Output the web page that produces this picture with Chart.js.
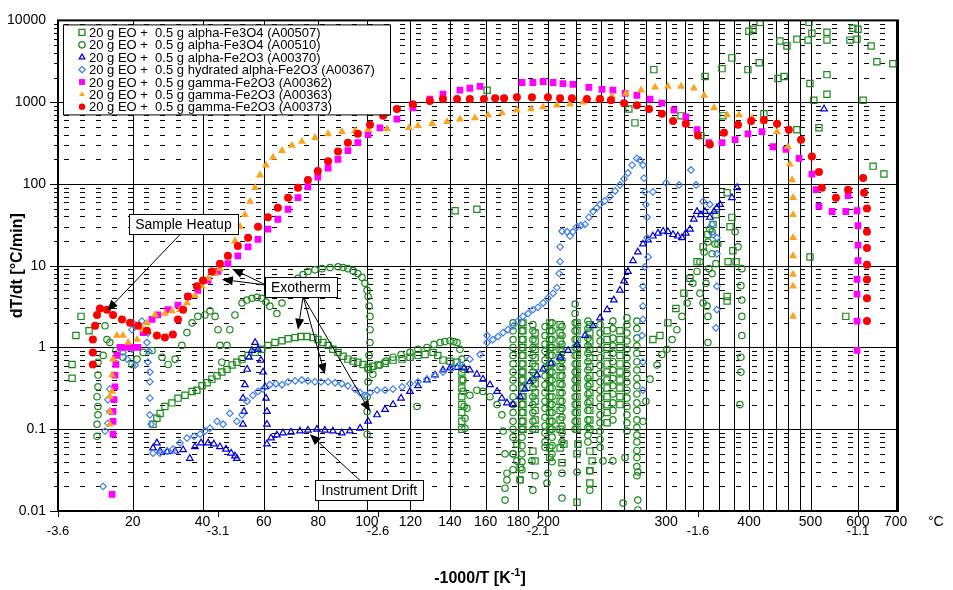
<!DOCTYPE html>
<html lang="en">
<head>
<meta charset="UTF-8">
<title>dT/dt vs -1000/T</title>
<script src="https://cdn.jsdelivr.net/npm/chart.js"></script>
<style>
  body { margin: 0; background: #fff; }
  #wrap { position: relative; width: 953px; height: 590px; }
</style>
</head>
<body>
<div id="wrap"><canvas id="rateChart"></canvas></div>
<script>
// axis ticks
const xTicks = [-3.6, -3.1, -2.6, -2.1, -1.6, -1.1];
const yTicks = [0.01, 0.1, 1, 10, 100, 1000, 10000];
const yTickText = ['0.01', '0.1', '1', '10', '100', '1000', '10000'];
// temperature grid (°C) along the -1000/T axis
const tempLines = [20, 40, 60, 80, 100, 120, 140, 160, 180, 200, 220, 240, 260, 280, 300, 320, 340, 360, 380, 400, 420, 440, 460, 480, 500, 600, 700];
const tempLabels = [20, 40, 60, 80, 100, 120, 140, 160, 180, 200, 300, 400, 500, 600, 700];

const legendLabels = [
  '20 g EO +  0.5 g alpha-Fe3O4 (A00507)',
  '20 g EO +  0.5 g alpha-Fe3O4 (A00510)',
  '20 g EO +  0.5 g alpha-Fe2O3 (A00370)',
  '20 g EO +  0.5 g hydrated alpha-Fe2O3 (A00367)',
  '20 g EO +  0.5 g gamma-Fe2O3 (A00362)',
  '20 g EO +  0.5 g gamma-Fe2O3 (A00363)',
  '20 g EO +  0.5 g gamma-Fe2O3 (A00373)'
];

// [ -1000/T , dT/dt ]
const sq507 = [
  [-3.556,0.42],[-3.556,0.62],[-3.544,1.40],[-3.528,2.4],[-3.503,1.6],
  [-3.303,0.115],[-3.291,0.136],[-3.281,0.156],[-3.266,0.19],[-3.244,0.21],[-3.225,0.24],[-3.203,0.26],[-3.181,0.29],[-3.166,0.30],[-3.150,0.34],[-3.134,0.37],[-3.119,0.41],[-3.103,0.45],[-3.088,0.50],[-3.072,0.54],[-3.056,0.61],[-3.041,0.66],[-3.025,0.72],[-3.006,0.80],[-2.984,0.87],[-2.963,0.95],[-2.944,1.06],[-2.922,1.15],[-2.900,1.21],[-2.881,1.28],[-2.859,1.32],[-2.841,1.36],[-2.822,1.36],[-2.803,1.32],[-2.788,1.25],[-2.772,1.15],[-2.756,1.06],[-2.741,0.95],[-2.725,0.87],[-2.709,0.78],[-2.694,0.72],[-2.678,0.68],[-2.663,0.66],[-2.647,0.62],[-2.631,0.57],[-2.616,0.59],[-2.600,0.61],[-2.578,0.64],[-2.553,0.70],[-2.525,0.72],[-2.500,0.76],[-2.475,0.80],[-2.453,0.82],[-2.428,0.87],[-2.413,0.80],[-2.397,0.70],[-2.375,0.68],[-2.353,0.66],
  [-2.338,0.5],[-2.338,0.4],[-2.338,0.32],[-2.338,0.25],[-2.338,0.2],[-2.338,0.16],[-2.338,0.125],[-2.338,0.1],
  [-2.147,2.0],[-2.147,1.6],[-2.147,1.25],[-2.147,1.0],[-2.147,0.8],[-2.147,0.63],[-2.147,0.5],[-2.147,0.4],[-2.147,0.32],[-2.147,0.25],[-2.147,0.2],[-2.147,0.16],[-2.147,0.125],[-2.147,0.1],
  [-2.109,0.1],[-2.109,0.13],[-2.109,0.17],[-2.109,0.22],[-2.109,0.28],[-2.109,0.36],[-2.109,0.45],[-2.109,0.58],[-2.109,0.75],[-2.109,0.95],[-2.109,1.2],[-2.109,1.5],
  [-2.063,2.0],[-2.063,1.6],[-2.063,1.25],[-2.063,1.0],[-2.063,0.8],[-2.063,0.63],[-2.063,0.5],[-2.063,0.4],[-2.063,0.32],[-2.063,0.25],[-2.063,0.2],[-2.063,0.16],[-2.063,0.125],[-2.063,0.1],
  [-2.031,0.1],[-2.031,0.13],[-2.031,0.17],[-2.031,0.22],[-2.031,0.28],[-2.031,0.36],[-2.031,0.45],[-2.031,0.58],[-2.031,0.75],[-2.031,0.95],[-2.031,1.2],[-2.031,1.5],[-2.031,1.9],
  [-1.978,2.0],[-1.978,1.6],[-1.978,1.25],[-1.978,1.0],[-1.978,0.8],[-1.978,0.63],[-1.978,0.5],[-1.978,0.4],[-1.978,0.32],[-1.978,0.25],[-1.978,0.2],[-1.978,0.16],[-1.978,0.125],[-1.978,0.1],
  [-1.938,0.1],[-1.938,0.13],[-1.938,0.17],[-1.938,0.22],[-1.938,0.28],[-1.938,0.36],[-1.938,0.45],[-1.938,0.58],[-1.938,0.75],[-1.938,0.95],[-1.938,1.2],[-1.938,1.5],[-1.938,1.9],
  [-1.884,1.6],[-1.884,1.25],[-1.884,1.0],[-1.884,0.8],[-1.884,0.63],[-1.884,0.5],[-1.884,0.4],[-1.884,0.32],[-1.884,0.25],[-1.884,0.2],[-1.884,0.16],[-1.884,0.12],
  [-1.844,0.2],[-1.844,0.25],[-1.844,0.32],[-1.844,0.4],[-1.844,0.5],[-1.844,0.63],[-1.844,0.8],[-1.844,1.0],[-1.844,1.25],[-1.844,1.6],
  [-2.166,0.066],[-2.156,0.034],[-2.156,0.024],[-2.116,0.054],[-2.109,0.041],[-2.063,0.059],[-2.063,0.045],[-2.025,0.039],[-2.031,0.059],[-1.975,0.066],[-1.978,0.050],[-1.978,0.0128],[-1.938,0.054],[-1.931,0.041],[-1.938,0.031],[-1.938,0.022],[-2.019,0.066],
  [-1.741,1.25],[-1.719,1.40],[-1.694,2.0],[-1.669,3.0],[-1.644,4.6],[-1.625,7.0],[-1.603,11.2],[-1.584,17],[-1.569,24],[-1.553,32],[-1.544,42],
  [-2.359,47],[-2.291,49],[-2.259,1400],[-1.816,824],[-1.797,558],[-1.738,2500],[-1.653,680],[-1.591,390],[-1.578,2060],[-1.525,2570],[-1.494,3480],[-1.522,680],[-1.444,2500],[-1.441,7370],[-1.428,7800],[-1.406,9460],[-1.409,3030],[-1.394,720],[-1.344,5590],[-1.322,4860],[-1.350,1950],[-1.331,2060],[-1.291,5900],[-1.256,5740],[-1.253,9460],[-1.244,6970],[-1.250,1690],[-1.238,1057],[-1.291,460],[-1.222,486],[-1.197,7170],[-1.197,5740],[-1.197,2170],[-1.197,1250],[-1.125,5740],[-1.116,8010],[-1.100,7800],[-1.103,5900],[-1.059,4860],[-1.041,3120],[-0.991,2950],[-1.084,1057],[-1.053,165],[-1.019,132],[-1.250,12.8],[-1.138,2.4],[-1.509,78],[-1.494,39],[-1.500,30],[-1.491,15.2],[-1.506,11.2],[-1.481,11.2],[-1.509,4.2],[-1.509,3.7]
];

const circ510 = [
  [-3.478,0.082],[-3.478,0.115],[-3.475,0.15],[-3.475,0.19],[-3.478,0.25],[-3.475,0.33],[-3.475,0.46],[-3.475,0.66],[-3.459,0.80],[-3.453,1.84],[-3.447,1.25],[-3.438,1.15],
  [-3.419,0.92],[-3.397,0.76],[-3.369,0.62],[-3.353,0.72],[-3.334,0.87],[-3.306,0.92],[-3.275,0.76],[-3.256,0.62],[-3.234,0.72],[-3.213,1.06],[-3.197,1.52],[-3.181,2.0],[-3.163,2.4],[-3.141,2.5],[-3.125,2.8],[-3.109,2.4],[-3.100,1.65],[-3.094,1.06],[-3.088,0.66],[-3.072,1.06],[-3.063,1.65],[-3.047,2.5],[-3.025,3.5],[-3.010,3.8],[-2.994,4.0],[-2.978,4.1],[-2.963,4.0],[-2.950,3.6],[-2.938,3.2],[-2.916,2.6],[-2.900,3.5],[-2.881,5.0],[-2.866,5.9],[-2.850,7.0],[-2.834,7.8],[-2.819,8.5],[-2.797,8.9],[-2.775,9.2],[-2.750,9.5],[-2.725,9.7],[-2.709,9.5],[-2.694,9.2],[-2.678,8.7],[-2.663,8.0],[-2.650,7.2],[-2.641,6.1],[-2.634,5.0],[-2.631,4.2],[-2.628,3.2],[-2.625,2.4],[-2.625,1.65],[-2.625,1.15],[-2.628,0.80],[-2.631,0.54],[-2.631,0.38],[-2.634,0.25],[-2.634,0.165],[-2.634,0.087],
  [-2.616,0.47],[-2.594,0.61],[-2.575,0.68],[-2.553,0.76],[-2.528,0.82],[-2.500,0.87],[-2.475,0.95],[-2.447,1.0],[-2.425,1.09],[-2.406,1.15],[-2.391,1.18],[-2.375,1.21],[-2.363,1.18],[-2.353,1.15],[-2.344,0.95],[-2.338,0.72],[-2.334,0.54],[-2.334,0.40],[-2.334,0.29],[-2.331,0.19],[-2.328,0.136],[-2.328,0.103],[-2.322,0.18],[-2.313,0.26],[-2.291,0.30],[-2.272,0.29],[-2.250,0.25],[-2.228,0.20],[-2.213,0.15],[-2.209,0.095],[-2.203,0.050],[-2.197,0.029],[-2.203,0.019],[-2.478,0.19],
  [-2.178,0.032],[-2.178,0.05],[-2.178,0.08],[-2.178,0.1],[-2.178,0.125],[-2.178,0.16],[-2.178,0.2],[-2.178,0.25],[-2.178,0.32],[-2.178,0.4],[-2.178,0.5],[-2.178,0.63],[-2.178,0.8],[-2.178,1.0],[-2.178,1.25],[-2.178,1.6],[-2.178,2.0],
  [-2.150,2.0],[-2.150,1.6],[-2.150,1.25],[-2.150,1.0],[-2.150,0.8],[-2.150,0.63],[-2.150,0.5],[-2.150,0.4],[-2.150,0.32],[-2.150,0.25],[-2.150,0.2],[-2.150,0.16],[-2.150,0.125],[-2.150,0.1],[-2.150,0.08],[-2.150,0.063],[-2.150,0.05],[-2.150,0.04],[-2.150,0.032],
  [-2.116,0.1],[-2.116,0.125],[-2.116,0.16],[-2.116,0.2],[-2.116,0.25],[-2.116,0.32],[-2.116,0.4],[-2.116,0.5],[-2.116,0.63],[-2.116,0.8],[-2.116,1.0],[-2.116,1.25],[-2.116,1.6],[-2.116,1.9],
  [-2.078,1.8],[-2.078,1.4],[-2.078,1.1],[-2.078,0.9],[-2.078,0.7],[-2.078,0.56],[-2.078,0.45],[-2.078,0.35],[-2.078,0.28],[-2.078,0.22],[-2.078,0.18],[-2.078,0.14],[-2.078,0.11],[-2.078,0.09],[-2.078,0.07],[-2.078,0.06],
  [-2.056,0.04],[-2.056,0.05],[-2.056,0.063],[-2.056,0.08],[-2.056,0.1],[-2.056,0.125],[-2.056,0.16],[-2.056,0.2],[-2.056,0.25],[-2.056,0.32],[-2.056,0.4],[-2.056,0.5],[-2.056,0.63],[-2.056,0.8],[-2.056,1.0],[-2.056,1.25],[-2.056,1.6],[-2.056,2.0],
  [-2.025,1.8],[-2.025,1.4],[-2.025,1.1],[-2.025,0.9],[-2.025,0.7],[-2.025,0.56],[-2.025,0.45],[-2.025,0.35],[-2.025,0.28],[-2.025,0.22],[-2.025,0.18],[-2.025,0.14],[-2.025,0.11],[-2.025,0.09],[-2.025,0.07],
  [-1.984,0.1],[-1.984,0.125],[-1.984,0.16],[-1.984,0.2],[-1.984,0.25],[-1.984,0.32],[-1.984,0.4],[-1.984,0.5],[-1.984,0.63],[-1.984,0.8],[-1.984,1.0],[-1.984,1.25],[-1.984,1.6],[-1.984,2.0],[-1.984,2.6],[-1.984,3.4],
  [-1.944,2.1],[-1.944,1.7],[-1.944,1.3],[-1.944,1.05],[-1.944,0.85],[-1.944,0.67],[-1.944,0.53],[-1.944,0.42],[-1.944,0.34],[-1.944,0.27],[-1.944,0.21],[-1.944,0.17],[-1.944,0.13],[-1.944,0.105],[-1.944,0.085],[-1.944,0.07],
  [-1.906,0.06],[-1.906,0.075],[-1.906,0.095],[-1.906,0.12],[-1.906,0.15],[-1.906,0.19],[-1.906,0.24],[-1.906,0.3],[-1.906,0.38],[-1.906,0.48],[-1.906,0.6],[-1.906,0.75],[-1.906,0.95],[-1.906,1.2],[-1.906,1.5],[-1.906,1.9],
  [-1.866,2.1],[-1.866,1.7],[-1.866,1.3],[-1.866,1.05],[-1.866,0.85],[-1.866,0.67],[-1.866,0.53],[-1.866,0.42],[-1.866,0.34],[-1.866,0.27],[-1.866,0.21],[-1.866,0.17],[-1.866,0.13],
  [-1.822,0.095],[-1.822,0.12],[-1.822,0.15],[-1.822,0.19],[-1.822,0.24],[-1.822,0.3],[-1.822,0.38],[-1.822,0.48],[-1.822,0.6],[-1.822,0.75],[-1.822,0.95],[-1.822,1.2],[-1.822,1.5],[-1.822,1.9],[-1.822,2.3],
  [-1.791,2.1],[-1.791,1.7],[-1.791,1.3],[-1.791,1.05],[-1.791,0.85],[-1.791,0.67],[-1.791,0.53],[-1.791,0.42],[-1.791,0.34],[-1.791,0.27],[-1.791,0.21],[-1.791,0.17],[-1.791,0.13],[-1.791,0.105],[-1.791,0.085],[-1.791,0.07],[-1.791,0.055],[-1.791,0.045],[-1.791,0.035],[-1.791,0.027],
  [-1.772,0.125],[-1.763,0.22],[-1.750,0.41],[-1.728,0.61],[-1.713,0.82],[-1.697,0.95],[-1.681,1.25],[-1.666,1.65],[-1.650,2.4],[-1.634,3.5],[-1.616,6.1],[-1.603,8.5],[-1.594,11.2],[-1.581,14.7],[-1.569,19.5],[-1.556,26],
  [-1.594,4.6],[-1.584,3.5],[-1.575,6.1],[-1.566,9.2],[-1.556,14],[-1.547,18.4],[-1.572,3.2],[-1.569,2.4],[-1.569,1.15],[-1.556,8.0],[-1.544,10.6],[-1.538,18.4],[-1.563,28],
  [-2.203,0.0136],[-2.197,0.024],[-2.178,0.050],[-2.156,0.024],[-2.119,0.041],[-2.116,0.018],[-2.109,0.027],[-2.072,0.022],[-2.069,0.029],[-2.025,0.0144],[-2.025,0.029],[-1.978,0.030],[-1.938,0.018],[-1.938,0.031],[-1.897,0.041],[-1.866,0.041],[-1.828,0.045],[-1.834,0.0125],[-1.788,0.030],[-1.788,0.0136],[-1.788,0.0103],[-2.166,0.041],
  [-1.484,26],[-1.475,17],[-1.463,9.2],[-1.466,5.7],[-1.463,3.8],[-1.463,2.4],[-1.463,1.40],[-1.466,0.76],[-1.466,0.50],[-1.469,0.20]
];

const tri370 = [
  [-3.303,0.059],[-3.291,0.068],[-3.281,0.054],[-3.259,0.053],[-3.234,0.054],[-3.209,0.056],[-3.188,0.044],[-3.172,0.061],[-3.153,0.068],[-3.131,0.068],[-3.113,0.066],[-3.094,0.061],[-3.075,0.057],[-3.059,0.051],[-3.047,0.047],[-3.041,0.044],
  [-3.022,0.115],[-3.019,0.165],[-3.022,0.24],[-3.016,0.35],[-3.009,0.54],[-3.003,0.76],[-2.994,0.92],[-2.984,1.15],[-2.975,0.95],[-2.966,0.70],[-2.959,0.50],[-2.953,0.33],[-2.950,0.24],[-2.947,0.165],[-2.947,0.115],[-2.947,0.066],
  [-2.934,0.078],[-2.916,0.085],[-2.897,0.090],[-2.872,0.092],[-2.844,0.095],[-2.819,0.097],[-2.791,0.1],[-2.766,0.097],[-2.741,0.095],[-2.713,0.090],[-2.688,0.095],[-2.656,0.103],[-2.631,0.125],[-2.603,0.15],[-2.578,0.174],[-2.553,0.20],[-2.528,0.24],[-2.500,0.29],[-2.475,0.34],[-2.447,0.40],[-2.422,0.46],[-2.397,0.53],[-2.375,0.56],[-2.353,0.57],[-2.331,0.56],[-2.313,0.53],[-2.291,0.47],[-2.272,0.41],[-2.250,0.35],[-2.228,0.29],[-2.213,0.24],[-2.197,0.21],[-2.178,0.20],[-2.156,0.25],[-2.141,0.31],[-2.125,0.38],[-2.103,0.46],[-2.084,0.54],[-2.059,0.64],[-2.031,0.76],[-2.006,0.92],[-1.978,1.09],[-1.953,1.40],[-1.928,1.84],[-1.906,2.3],[-1.884,2.9],[-1.863,3.8],[-1.844,5.0],[-1.831,6.5],[-1.819,8.5],[-1.803,11.5],[-1.788,14.7],[-1.772,18.4],[-1.756,20.6],[-1.741,23],[-1.725,25],[-1.709,26.4],[-1.694,26],[-1.678,24],[-1.663,23],[-1.650,22],[-1.638,25],[-1.625,28],[-1.613,37],[-1.603,46],[-1.591,42],[-1.578,46],[-1.563,39],[-1.550,46],[-1.541,51],[-1.531,56],
  [-1.494,68],[-1.478,90],[-1.206,824]
];

const dia367 = [
  [-3.459,0.020],[-3.453,0.095],[-3.444,0.118],[-3.438,0.165],[-3.444,0.23],[-3.438,0.31],[-3.397,0.87],[-3.384,0.72],[-3.369,0.95],[-3.369,1.65],[-3.366,2.0],[-3.359,0.61],[-3.338,2.1],[-3.322,1.15],[-3.319,1.5],[-3.316,0.9],[-3.319,0.66],[-3.313,0.5],[-3.313,0.38],[-3.313,0.24],[-3.313,0.15],[-3.309,0.115],
  [-3.303,0.051],[-3.281,0.051],[-3.259,0.054],[-3.241,0.057],[-3.219,0.068],[-3.197,0.078],[-3.175,0.082],[-3.156,0.087],[-3.141,0.095],[-3.125,0.103],[-3.103,0.125],[-3.084,0.115],[-3.063,0.156],[-3.041,0.125],[-3.025,0.15],[-3.009,0.22],[-2.991,0.26],[-2.975,0.29],[-2.959,0.31],[-2.938,0.35],[-2.919,0.36],[-2.900,0.35],[-2.881,0.38],[-2.859,0.39],[-2.838,0.40],[-2.819,0.39],[-2.797,0.38],[-2.778,0.38],[-2.756,0.38],[-2.734,0.37],[-2.713,0.36],[-2.694,0.34],[-2.672,0.31],[-2.656,0.28],[-2.641,0.26],[-2.625,0.28],[-2.603,0.30],[-2.578,0.30],[-2.553,0.31],[-2.525,0.33],[-2.500,0.36],[-2.475,0.38],[-2.447,0.41],[-2.422,0.46],[-2.397,0.50],[-2.369,0.56],[-2.344,0.62],[-2.313,0.72],[-2.281,0.82],[-2.259,1.15],[-2.259,1.40],[-2.241,1.25],[-2.225,1.36],[-2.209,1.52],[-2.194,1.65],[-2.178,1.84],[-2.163,2.1],[-2.147,2.4],[-2.131,2.6],[-2.116,2.9],[-2.100,3.1],[-2.084,3.5],[-2.069,4.0],[-2.053,4.6],[-2.041,5.4],[-2.034,8.0],[-2.031,11.2],[-2.031,17],[-2.025,26.4],[-2.009,26],[-2.000,23],[-1.991,26],[-1.978,30],[-1.966,31],[-1.953,32],[-1.941,39],[-1.928,46],[-1.916,51],[-1.906,56],[-1.891,62],[-1.875,70],[-1.859,82],[-1.844,97],[-1.831,115],[-1.819,136],[-1.806,170],[-1.791,205],[-1.781,195],[-1.772,170],[-1.769,118],[-1.766,80],[-1.763,56],[-1.759,39],[-1.759,22],[-1.756,12.8],[-1.766,9.7],[-1.772,5.6],[-1.772,3.2],[-1.772,2.2],[-1.775,1.40],[-1.772,0.66],[-1.772,0.30],
  [-1.741,80],[-1.700,103],[-1.659,97],[-1.622,148],[-1.606,97],[-1.584,61],[-1.563,56],[-1.556,32],[-1.553,24],[-1.541,22],[-1.541,14],[-1.541,5.6],[-1.541,2.9],[-1.544,1.74]
];

const sq362 = [
  [-3.431,0.016],[-3.428,0.087],[-3.428,0.125],[-3.428,0.165],[-3.425,0.23],[-3.422,0.33],[-3.422,0.46],[-3.419,0.62],[-3.416,0.80],[-3.406,1.0],[-3.388,1.0],[-3.369,1.0],[-3.350,1.0],[-3.334,1.52],[-3.306,2.2],[-3.288,2.5],[-3.256,2.9],[-3.225,3.3],[-3.194,4.2],[-3.163,5.0],[-3.131,6.6],[-3.100,8.5],[-3.069,10.6],[-3.038,13.2],[-3.006,17],[-2.975,21],[-2.944,28],[-2.913,37],[-2.881,49],[-2.850,68],[-2.819,92],[-2.788,121],[-2.756,156],[-2.725,200],[-2.694,255],[-2.663,320],[-2.631,400],[-2.594,486],[-2.541,620],[-2.491,850],[-2.438,1090],[-2.397,1250],[-2.344,1400],[-2.313,1480],[-2.281,1560],
  [-2.150,1740],[-2.116,1740],[-2.084,1790],[-2.053,1740],[-2.022,1690],[-1.991,1650],[-1.941,1520],[-1.900,1430],[-1.866,1400],[-1.828,1280],[-1.791,1210],[-1.750,1090],[-1.713,973],[-1.675,800],[-1.638,660],[-1.603,460],[-1.566,320],[-1.525,320],[-1.484,348],[-1.444,410],[-1.400,435],[-1.366,285],[-1.325,264],[-1.284,205],[-1.244,132],[-1.231,85],[-1.222,53],[-1.181,46],[-1.138,46],[-1.131,72],[-1.103,47],[-1.100,31],[-1.100,17.9],[-1.100,11.5],[-1.103,6.8],[-1.103,4.5],[-1.103,2.1],[-1.103,0.92]
];

const tri363 = [
  [-3.438,0.115],[-3.438,0.165],[-3.438,0.25],[-3.431,0.29],[-3.431,0.46],[-3.428,0.72],[-3.416,1.40],[-3.397,1.40],[-3.381,1.15],[-3.353,1.25],[-3.334,1.65],[-3.322,2.0],[-3.297,2.5],[-3.266,2.6],[-3.244,2.8],[-3.219,2.9],[-3.197,3.5],[-3.172,4.3],[-3.150,5.6],[-3.131,7.0],[-3.109,8.0],[-3.094,9.2],[-3.069,12.8],[-3.047,20],[-3.031,30],[-3.016,42],[-3.000,61],[-2.984,90],[-2.969,128],[-2.950,170],[-2.928,211],[-2.900,255],[-2.869,295],[-2.838,330],[-2.797,368],[-2.756,410],[-2.713,435],[-2.672,448],[-2.631,460],[-2.572,470],[-2.503,486],[-2.475,515],[-2.431,545],[-2.384,575],[-2.344,620],[-2.297,641],[-2.256,697],[-2.213,737],[-2.166,800],[-2.122,824],[-2.084,871],[-2.041,920],[-2.000,946],[-1.959,1000],[-1.913,1090],[-1.869,1180],[-1.825,1280],[-1.778,1400],[-1.734,1520],[-1.694,1560],[-1.653,1560],[-1.613,1480],[-1.581,1210],[-1.550,850],[-1.509,697],[-1.472,697],[-1.431,641],[-1.394,575],[-1.353,435],[-1.319,285],[-1.313,174],[-1.306,112],[-1.303,68],[-1.303,42],[-1.303,22],[-1.303,13.2],[-1.303,7.8],[-1.303,5.6],[-1.303,2.4]
];

const dot373 = [
  [-3.491,0.62],[-3.491,0.87],[-3.491,1.25],[-3.484,1.84],[-3.478,2.5],[-3.469,3.0],[-3.447,2.9],[-3.428,2.5],[-3.400,2.2],[-3.375,2.0],[-3.350,1.84],[-3.322,1.6],[-3.291,1.4],[-3.266,1.32],[-3.241,1.44],[-3.225,2.2],[-3.209,2.9],[-3.194,4.2],[-3.166,5.6],[-3.147,6.6],[-3.119,8.5],[-3.094,10.6],[-3.069,13.2],[-3.038,17.4],[-3.006,22],[-2.975,30],[-2.944,39],[-2.913,51],[-2.881,68],[-2.850,90],[-2.819,112],[-2.788,144],[-2.756,189],[-2.725,250],[-2.694,320],[-2.663,410],[-2.625,528],[-2.584,680],[-2.541,824],[-2.491,946],[-2.438,1030],[-2.397,1090],[-2.353,1090],[-2.313,1090],[-2.269,1090],[-2.234,1117],[-2.206,1117],[-2.166,1150],[-2.119,1150],[-2.069,1150],[-2.031,1117],[-1.994,1117],[-1.947,1090],[-1.906,1090],[-1.872,1057],[-1.831,973],[-1.791,920],[-1.753,824],[-1.713,720],[-1.678,590],[-1.638,545],[-1.600,390],[-1.563,303],[-1.519,424],[-1.475,528],[-1.434,590],[-1.394,607],[-1.353,545],[-1.316,460],[-1.278,348],[-1.244,217],[-1.222,140],[-1.213,90],[-1.169,68],[-1.131,85],[-1.084,118],[-1.081,78],[-1.072,50],[-1.072,26],[-1.072,16.5],[-1.072,10.3],[-1.072,6.8],[-1.072,4.0],[-1.072,2.1]
];

const fontFamily = "'Liberation Sans', Arial, Helvetica, sans-serif";
Chart.defaults.font.family = fontFamily;
Chart.defaults.color = '#000';

// the temperature gridlines in the source sit ~0.045 K^-1 right of -1000/T
function toInvK(t) { return -1000 / (t + 273.15) + 0.045; }

const seriesDefs = [
  { pts: sq507,   style: 'rect',     color: '#1a8a1a', filled: false, r: 4.4 },
  { pts: circ510, style: 'circle',   color: '#1a8a1a', filled: false, r: 3.2 },
  { pts: tri370,  style: 'triangle', color: '#0000dd', filled: false, r: 3.8 },
  { pts: dia367,  style: 'rectRot',  color: '#3f7ff2', filled: false, r: 3.3 },
  { pts: sq362,   style: 'rect',     color: '#ff00ff', filled: true,  r: 4.8 },
  { pts: tri363,  style: 'triangle', color: '#fca31c', filled: true,  r: 4.6 },
  { pts: dot373,  style: 'circle',   color: '#ff0000', filled: true,  r: 4.0 }
];

// callouts, positioned in data units
const notes = [
  { text: 'Sample Heatup', at: [-3.208, 32], arrows: [[[-3.219, 24], [-3.447, 2.8]]] },
  { text: 'Exotherm', at: [-2.841, 5.5], arrows: [
      [[-2.950, 5.8], [-3.088, 6.8]],
      [[-2.950, 5.8], [-3.056, 9.2]],
      [[-2.834, 4.2], [-2.850, 1.65]],
      [[-2.834, 4.2], [-2.766, 0.47]],
      [[-2.834, 4.2], [-2.625, 0.165]] ] },
  { text: 'Instrument Drift', at: [-2.627, 0.0179], arrows: [[[-2.656, 0.0236], [-2.813, 0.087]]] }
];

function markerOpts(s, r) {
  return { pointStyle: s.style, radius: r, rotation: 0, borderWidth: s.filled ? 0 : 1.2 };
}

const gridPlugin = {
  id: 'gridPlugin',
  beforeDatasetsDraw(chart) {
    const { ctx, chartArea: a, scales: { x, y } } = chart;
    ctx.save();
    ctx.beginPath();
    ctx.rect(a.left, a.top, a.right - a.left, a.bottom - a.top);
    ctx.clip();
    ctx.strokeStyle = '#000';
    ctx.lineWidth = 1;
    ctx.setLineDash([5, 11]);
    for (let e = -2; e < 4; e++) {
      for (let m = 2; m <= 9; m++) {
        const py = Math.round(y.getPixelForValue(m * Math.pow(10, e))) + 0.5;
        ctx.beginPath(); ctx.moveTo(a.left + 6, py); ctx.lineTo(a.right, py); ctx.stroke();
      }
    }
    ctx.setLineDash([]);
    yTicks.forEach(v => {
      const py = Math.round(y.getPixelForValue(v)) + 0.5;
      ctx.beginPath(); ctx.moveTo(a.left, py); ctx.lineTo(a.right, py); ctx.stroke();
    });
    tempLines.forEach(t => {
      const px = Math.round(x.getPixelForValue(toInvK(t))) + 0.5;
      ctx.beginPath(); ctx.moveTo(px, a.top); ctx.lineTo(px, a.bottom); ctx.stroke();
    });
    ctx.restore();
  },
  afterDatasetsDraw(chart) {
    const { ctx, chartArea: a, scales: { x, y } } = chart;
    ctx.save();
    // frame and tick marks
    ctx.strokeStyle = '#000';
    ctx.lineWidth = 2;
    ctx.strokeRect(a.left, a.top, a.right - a.left, a.bottom - a.top);
    ctx.lineWidth = 1;
    for (let e = -2; e < 4; e++) {
      for (let m = 1; m <= 9; m++) {
        const py = Math.round(y.getPixelForValue(m * Math.pow(10, e))) + 0.5;
        const len = m === 1 ? 8 : 4;
        ctx.beginPath(); ctx.moveTo(a.left - len, py); ctx.lineTo(a.left, py); ctx.stroke();
      }
    }
    xTicks.forEach(v => {
      const px = Math.round(x.getPixelForValue(v)) + 0.5;
      ctx.beginPath(); ctx.moveTo(px, a.bottom); ctx.lineTo(px, a.bottom + 6); ctx.stroke();
    });

    // callouts
    ctx.font = '14px ' + fontFamily;
    notes.forEach(n => {
      ctx.fillStyle = '#000';
      n.arrows.forEach(([from, to]) => {
        const x0 = x.getPixelForValue(from[0]), y0 = y.getPixelForValue(from[1]);
        const x1 = x.getPixelForValue(to[0]), y1 = y.getPixelForValue(to[1]);
        const ang = Math.atan2(y1 - y0, x1 - x0);
        const hl = 11, hw = 4.5;
        const bx = x1 - hl * Math.cos(ang), by = y1 - hl * Math.sin(ang);
        ctx.beginPath(); ctx.moveTo(x0, y0); ctx.lineTo(bx, by); ctx.stroke();
        ctx.beginPath();
        ctx.moveTo(x1, y1);
        ctx.lineTo(bx + hw * Math.sin(ang), by - hw * Math.cos(ang));
        ctx.lineTo(bx - hw * Math.sin(ang), by + hw * Math.cos(ang));
        ctx.closePath(); ctx.fill();
      });
      const cx = x.getPixelForValue(n.at[0]), cy = y.getPixelForValue(n.at[1]);
      const w = Math.round(ctx.measureText(n.text).width + 12), h = 20;
      const bx = Math.round(cx - w / 2) + 0.5, by = Math.round(cy - h / 2) + 0.5;
      ctx.fillStyle = '#fff';
      ctx.fillRect(bx, by, w, h);
      ctx.strokeRect(bx, by, w, h);
      ctx.fillStyle = '#000';
      ctx.textAlign = 'center'; ctx.textBaseline = 'middle';
      ctx.fillText(n.text, cx, cy + 1);
    });

    // legend box
    const lx = a.left + 5, ly = a.top + 4, lw = 327, lh = 90;
    ctx.fillStyle = '#fff';
    ctx.fillRect(lx + 0.5, ly + 0.5, lw, lh);
    ctx.strokeStyle = '#000';
    ctx.strokeRect(lx + 0.5, ly + 0.5, lw, lh);
    ctx.font = '13px ' + fontFamily;
    ctx.textAlign = 'left'; ctx.textBaseline = 'middle';
    chart.data.datasets.forEach((ds, i) => {
      const s = seriesDefs[i];
      const rowY = ly + 8 + i * 12.4;
      ctx.fillStyle = s.filled ? s.color : 'rgba(0,0,0,0)';
      ctx.strokeStyle = s.color;
      ctx.lineWidth = 1.3;
      Chart.helpers.drawPoint(ctx, markerOpts(s, s.style === 'rect' ? 4.2 : 3.2), lx + 19, rowY);
      ctx.fillStyle = '#000';
      ctx.fillText(ds.label, lx + 26, rowY + 1);
    });
    ctx.restore();
  },
  afterDraw(chart) {
    const { ctx, chartArea: a, scales: { x } } = chart;
    ctx.save();
    ctx.fillStyle = '#000';
    // temperature labels
    ctx.font = '14px ' + fontFamily;
    ctx.textAlign = 'center'; ctx.textBaseline = 'middle';
    tempLabels.forEach(t => ctx.fillText(String(t), x.getPixelForValue(toInvK(t)), a.bottom + 11));
    ctx.textAlign = 'left';
    ctx.fillText('\u00b0C', a.right + 30, a.bottom + 11);
    // y title
    ctx.font = 'bold 16px ' + fontFamily;
    ctx.save();
    ctx.translate(18, (a.top + a.bottom) / 2);
    ctx.rotate(-Math.PI / 2);
    ctx.textAlign = 'center';
    ctx.fillText('dT/dt [\u00b0C/min]', 0, 0);
    ctx.restore();
    // x title with superscript
    const main = '-1000/T [K', sup = '-1', tail = ']';
    ctx.font = 'bold 16px ' + fontFamily;
    const w1 = ctx.measureText(main).width, w3 = ctx.measureText(tail).width;
    ctx.font = 'bold 11px ' + fontFamily;
    const w2 = ctx.measureText(sup).width;
    let tx = 480 - (w1 + w2 + w3) / 2;
    const ty = 579;
    ctx.textAlign = 'left';
    ctx.font = 'bold 16px ' + fontFamily;
    ctx.fillText(main, tx, ty); tx += w1;
    ctx.font = 'bold 11px ' + fontFamily;
    ctx.fillText(sup, tx, ty - 6); tx += w2;
    ctx.font = 'bold 16px ' + fontFamily;
    ctx.fillText(tail, tx, ty);
    ctx.restore();
  }
};

const chart = new Chart(document.getElementById('rateChart'), {
  type: 'scatter',
  data: {
    datasets: seriesDefs.map((s, i) => ({
      label: legendLabels[i],
      data: s.pts.map(p => ({ x: p[0], y: p[1] })),
      pointStyle: s.style,
      pointRadius: s.r,
      pointHoverRadius: s.r,
      pointBorderWidth: s.filled ? 0 : 1.2,
      pointBorderColor: s.color,
      pointBackgroundColor: s.filled ? s.color : 'rgba(0,0,0,0)',
      showLine: false,
      order: seriesDefs.length - 1 - i
    }))
  },
  options: {
    responsive: true,
    maintainAspectRatio: false,
    animation: false,
    layout: { padding: { top: 13, right: 55, left: 0, bottom: 0 } },
    plugins: { legend: { display: false }, tooltip: { enabled: false } },
    scales: {
      x: {
        type: 'linear', min: -3.6, max: -0.975,
        afterBuildTicks: s => { s.ticks = xTicks.map(v => ({ value: v })); },
        afterFit: s => { s.height = 79; },
        grid: { display: false, drawTicks: false },
        border: { display: false },
        ticks: { font: { size: 13 }, padding: 13, maxRotation: 0, autoSkip: false, callback: v => Number(v).toFixed(1) }
      },
      y: {
        type: 'logarithmic', min: 0.01, max: 10000,
        afterBuildTicks: s => { s.ticks = yTicks.map(v => ({ value: v })); },
        afterFit: s => { s.width = 58; },
        grid: { display: false, drawTicks: false },
        border: { display: false },
        ticks: { font: { size: 14 }, padding: 12, autoSkip: false, callback: (v, i) => yTickText[i] }
      }
    }
  },
  plugins: [gridPlugin]
});
</script>
</body>
</html>
